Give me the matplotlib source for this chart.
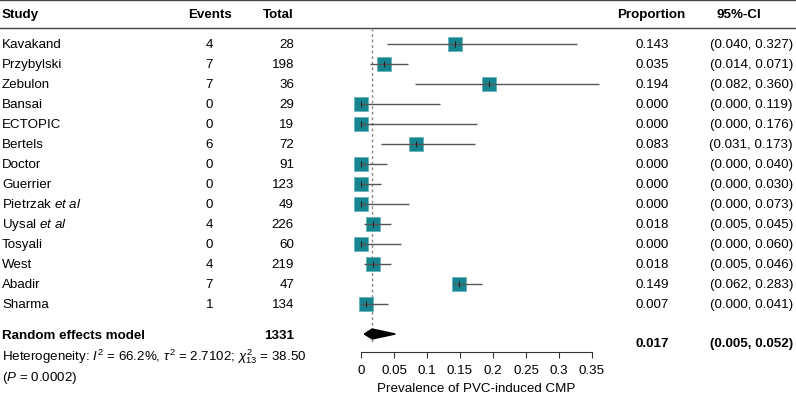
import numpy as np
import matplotlib
matplotlib.use("Agg")
import matplotlib.pyplot as plt

plt.rcParams['font.family'] = ['Liberation Sans', 'DejaVu Sans']
plt.rcParams['mathtext.fontset'] = 'custom'
plt.rcParams['mathtext.rm'] = 'Liberation Sans'
plt.rcParams['mathtext.it'] = 'Liberation Sans:italic'
plt.rcParams['mathtext.bf'] = 'Liberation Sans:bold'

# data
studies = ["Kavakand", "Przybylski", "Zebulon", "Bansai", "ECTOPIC", "Bertels",
           "Doctor", "Guerrier", r"Pietrzak $\it{et\ al}$", r"Uysal $\it{et\ al}$",
           "Tosyali", "West", "Abadir", "Sharma"]
events = [4, 7, 7, 0, 0, 6, 0, 0, 0, 4, 0, 4, 7, 1]
totals = [28, 198, 36, 29, 19, 72, 91, 123, 49, 226, 60, 219, 47, 134]
prop = [0.143, 0.035, 0.194, 0.000, 0.000, 0.083, 0.000, 0.000, 0.000,
        0.018, 0.000, 0.018, 0.149, 0.007]
ci_lo = [0.040, 0.014, 0.082, 0.000, 0.000, 0.031, 0.000, 0.000, 0.000,
         0.005, 0.000, 0.005, 0.062, 0.000]
ci_hi = [0.327, 0.071, 0.360, 0.119, 0.176, 0.173, 0.040, 0.030, 0.073,
         0.045, 0.060, 0.046, 0.283, 0.041]
# whiskers as drawn in the figure (Abadir's drawn line differs from its printed CI)
draw_lo = [0.040, 0.014, 0.082, 0.000, 0.000, 0.031, 0.000, 0.000, 0.000,
           0.005, 0.000, 0.005, 0.140, 0.000]
draw_hi = [0.327, 0.071, 0.360, 0.119, 0.176, 0.173, 0.040, 0.030, 0.073,
           0.045, 0.060, 0.046, 0.183, 0.041]
total_n = 1331
re_est, re_lo, re_hi = 0.017, 0.005, 0.052
xticks = [0, 0.05, 0.1, 0.15, 0.2, 0.25, 0.3, 0.35]
xticklabels = ["0", "0.05", "0.1", "0.15", "0.2", "0.25", "0.3", "0.35"]

teal = "#17858f"
fs = 9.6

fig = plt.figure(figsize=(7.96, 4.02), dpi=100)

# text layer in pixel coords
ax = fig.add_axes([0, 0, 1, 1])
ax.set_xlim(0, 796)
ax.set_ylim(402, 0)
ax.axis('off')

ax.axhline(1, color="#444444", lw=1)
ax.axhline(29, color="#444444", lw=1)

hy = 15
ax.text(2, hy, "Study", fontsize=fs, fontweight='bold', va='center')
ax.text(210, hy, "Events", fontsize=fs, fontweight='bold', va='center', ha='center')
ax.text(294, hy, "Total", fontsize=fs, fontweight='bold', va='center', ha='right')
ax.text(651, hy, "Proportion", fontsize=fs, fontweight='bold', va='center', ha='center')
ax.text(739, hy, "95%-CI", fontsize=fs, fontweight='bold', va='center', ha='center')

for i in range(len(studies)):
    y = 45 + 20 * i
    ax.text(2, y, studies[i], fontsize=fs, va='center')
    ax.text(213, y, str(events[i]), fontsize=fs, va='center', ha='right')
    ax.text(294, y, str(totals[i]), fontsize=fs, va='center', ha='right')
    ax.text(669, y, "%.3f" % prop[i], fontsize=fs, va='center', ha='right')
    ax.text(793, y, "(%.3f, %.3f)" % (ci_lo[i], ci_hi[i]), fontsize=fs, va='center', ha='right')

ax.text(2, 336, "Random effects model", fontsize=fs, fontweight='bold', va='center')
ax.text(294, 336, str(total_n), fontsize=fs, fontweight='bold', va='center', ha='right')
ax.text(669, 344, "%.3f" % re_est, fontsize=fs, fontweight='bold', va='center', ha='right')
ax.text(793, 344, "(%.3f, %.3f)" % (re_lo, re_hi), fontsize=fs, fontweight='bold',
        va='center', ha='right')
ax.text(2, 357, r"Heterogeneity: $I^2$ = 66.2%, $\tau^2$ = 2.7102; $\chi^2_{13}$ = 38.50",
        fontsize=fs, va='center')
ax.text(2, 378, r"($P$ = 0.0002)", fontsize=fs, va='center')

# forest plot axes, rows in index units
ax2 = fig.add_axes([361 / 796, 49 / 402, 231 / 796, 353 / 402])
ax2.patch.set_alpha(0)
ax2.set_xlim(0, 0.35)
ax2.set_ylim(15.4, -2.25)
rows = np.arange(len(studies))

ax2.vlines(re_est, -0.8, 14.9, colors="#888888", linestyles=(0, (2, 2)), lw=1)
ax2.scatter(prop, rows, marker='s', s=115, color=teal, edgecolors="#5fb3ba",
            linewidths=0.5, zorder=3, clip_on=False)
ax2.hlines(rows, draw_lo, draw_hi, colors="#555555", lw=1, zorder=4, clip_on=False)
ax2.scatter(prop, rows, marker='|', s=25, color="#222222", linewidths=0.8,
            zorder=5, clip_on=False)

re_row = 14.5
dh = 0.25
ax2.fill([re_lo, re_est, re_hi, re_est], [re_row, re_row - dh, re_row, re_row + dh],
         color="black", zorder=4, clip_on=False)

for s in ['top', 'right', 'left']:
    ax2.spines[s].set_visible(False)
ax2.spines['bottom'].set_color("#333333")
ax2.spines['bottom'].set_linewidth(0.8)
ax2.set_yticks([])
ax2.set_xticks(xticks)
ax2.set_xticklabels(xticklabels)
ax2.tick_params(axis='x', length=4, width=0.8, color="#333333", pad=5, labelsize=fs)
ax2.set_xlabel("Prevalence of PVC-induced CMP", fontsize=fs, labelpad=4)

fig.savefig("out.png", dpi=100)
